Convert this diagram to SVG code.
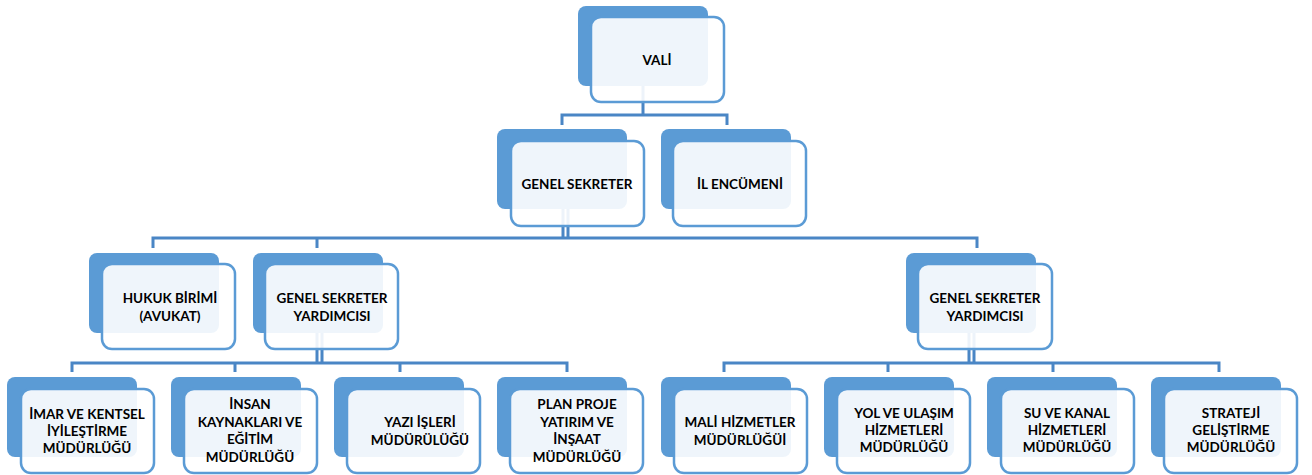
<svg xmlns="http://www.w3.org/2000/svg" width="1312" height="475" viewBox="0 0 1312 475">
<style>
.bk{fill:#5B9BD5}
.fr{fill:#ffffff;fill-opacity:0.9;stroke:#5B9BD5;stroke-width:2.5}
.cn{fill:none;stroke:#4A86C5;stroke-width:3}
text{font-family:Lato,"Liberation Sans",sans-serif;font-weight:bold;font-size:13.5px;fill:#000;text-anchor:middle;dominant-baseline:central}
</style>
<rect width="1312" height="475" fill="#fff"/>
<g id="connectors">
<path class="cn" d="M643,86V115M562,125V115H727V125"/>
<path class="cn" d="M563,209V238M568,209V238M153,248V238H977V248M317,238V248"/>
<path class="cn" d="M317,333V363M322,333V363M72,372V363H567V372M235,363V372M400,363V372"/>
<path class="cn" d="M969,333V363M974,333V363M724,372V363H1219V372M888,363V372M1053,363V372"/>
</g>
<g id="vali">
<rect class="bk" x="578" y="6" width="130" height="80" rx="8"/>
<rect class="fr" x="591" y="17" width="133" height="85" rx="10"/>
<text x="657" y="60">VALİ</text>
</g>
<g id="genel-sekreter">
<rect class="bk" x="497" y="129" width="130" height="80" rx="8"/>
<rect class="fr" x="511" y="141" width="133" height="85" rx="10"/>
<text x="577" y="184">GENEL SEKRETER</text>
</g>
<g id="il-encumeni">
<rect class="bk" x="661" y="129" width="130" height="80" rx="8"/>
<rect class="fr" x="673" y="141" width="133" height="85" rx="10"/>
<text x="740" y="184">İL ENCÜMENİ</text>
</g>
<g id="hukuk">
<rect class="bk" x="89" y="253" width="130" height="80" rx="8"/>
<rect class="fr" x="102" y="264" width="133" height="85" rx="10"/>
<text x="170" y="298">HUKUK BİRİMİ</text>
<text x="170" y="316">(AVUKAT)</text>
</g>
<g id="gsy-left">
<rect class="bk" x="253" y="253" width="130" height="80" rx="8"/>
<rect class="fr" x="265" y="264" width="133" height="85" rx="10"/>
<text x="332" y="298">GENEL SEKRETER</text>
<text x="332" y="316">YARDIMCISI</text>
</g>
<g id="gsy-right">
<rect class="bk" x="906" y="253" width="130" height="80" rx="8"/>
<rect class="fr" x="918" y="264" width="134" height="85" rx="10"/>
<text x="985" y="298">GENEL SEKRETER</text>
<text x="985" y="316">YARDIMCISI</text>
</g>
<g id="imar">
<rect class="bk" x="7" y="377" width="130" height="80" rx="8"/>
<rect class="fr" x="21" y="389" width="133" height="84" rx="10"/>
<text x="87" y="414">İMAR VE KENTSEL</text>
<text x="87" y="431">İYİLEŞTİRME</text>
<text x="87" y="448">MÜDÜRLÜĞÜ</text>
</g>
<g id="insan">
<rect class="bk" x="171" y="377" width="130" height="80" rx="8"/>
<rect class="fr" x="184" y="389" width="133" height="84" rx="10"/>
<text x="250" y="404">İNSAN</text>
<text x="250" y="421.5">KAYNAKLARI VE</text>
<text x="250" y="439">EĞİTİM</text>
<text x="250" y="456.5">MÜDÜRLÜĞÜ</text>
</g>
<g id="yazi">
<rect class="bk" x="334" y="377" width="130" height="80" rx="8"/>
<rect class="fr" x="347" y="389" width="133" height="84" rx="10"/>
<text x="420" y="422">YAZI İŞLERİ</text>
<text x="420" y="440">MÜDÜRÜLÜĞÜ</text>
</g>
<g id="plan">
<rect class="bk" x="497" y="377" width="130" height="80" rx="8"/>
<rect class="fr" x="510" y="389" width="133" height="84" rx="10"/>
<text x="577" y="404">PLAN PROJE</text>
<text x="577" y="421.5">YATIRIM VE</text>
<text x="577" y="439">İNŞAAT</text>
<text x="577" y="456.5">MÜDÜRLÜĞÜ</text>
</g>
<g id="mali">
<rect class="bk" x="661" y="377" width="130" height="80" rx="8"/>
<rect class="fr" x="674" y="389" width="133" height="84" rx="10"/>
<text x="740" y="422">MALİ HİZMETLER</text>
<text x="740" y="440">MÜDÜRLÜĞÜİ</text>
</g>
<g id="yol">
<rect class="bk" x="824" y="377" width="130" height="80" rx="8"/>
<rect class="fr" x="837" y="389" width="133" height="84" rx="10"/>
<text x="904" y="413">YOL VE ULAŞIM</text>
<text x="904" y="430">HİZMETLERİ</text>
<text x="904" y="447">MÜDÜRLÜĞÜ</text>
</g>
<g id="su">
<rect class="bk" x="987" y="377" width="130" height="80" rx="8"/>
<rect class="fr" x="1001" y="389" width="133" height="84" rx="10"/>
<text x="1067" y="413">SU VE KANAL</text>
<text x="1067" y="430">HİZMETLERİ</text>
<text x="1067" y="447">MÜDÜRLÜĞÜ</text>
</g>
<g id="strateji">
<rect class="bk" x="1151" y="377" width="130" height="80" rx="8"/>
<rect class="fr" x="1164" y="389" width="133" height="84" rx="10"/>
<text x="1231" y="413">STRATEJİ</text>
<text x="1231" y="430">GELİŞTİRME</text>
<text x="1231" y="447">MÜDÜRLÜĞÜ</text>
</g>
</svg>
